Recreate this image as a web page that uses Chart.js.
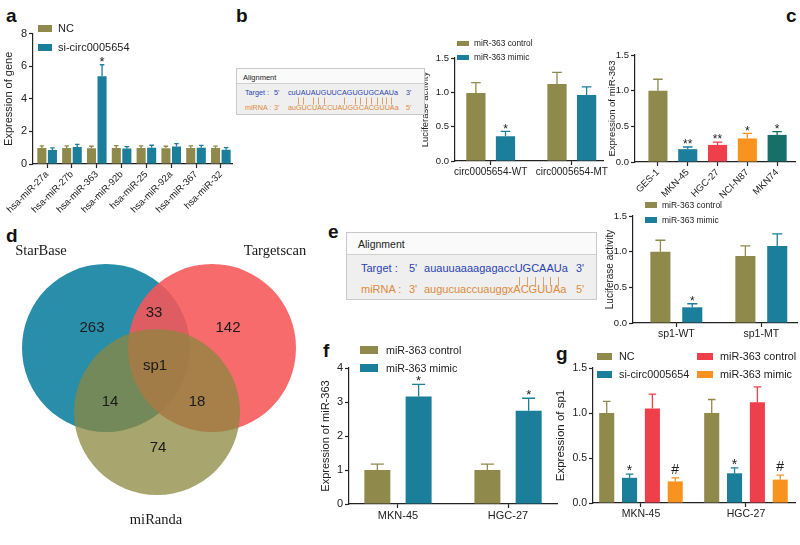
<!DOCTYPE html>
<html>
<head>
<meta charset="utf-8">
<script src="https://cdn.jsdelivr.net/npm/chart.js@4.4.1/dist/chart.umd.min.js"></script>
<style>
body { margin:0; width:800px; height:545px; background:#fff; position:relative; overflow:hidden; font-family:'Liberation Sans', Arial, sans-serif; color:#222; }
.pane { position:absolute; }
.tag { position:absolute; font-weight:bold; font-size:19px; color:#111; line-height:19px; }
.leg { position:absolute; display:flex; align-items:center; white-space:nowrap; color:#222; }
.leg i { display:inline-block; }
.align { position:absolute; border:1px solid #c9c9c9; background:#efefef; box-sizing:border-box; }
.align .hd { position:absolute; left:0; right:0; top:0; background:#fafafa; border-bottom:1px solid #cfcfcf; }
.align span.t { position:absolute; white-space:nowrap; transform:translateY(-50%); }
.seq b { font-weight:normal; position:relative; }
.seq b.m::after { content:''; position:absolute; left:50%; width:1px; background:#d9a06a; }
</style>
</head>
<body>

<div class="tag" style="left:6px;top:6px">a</div>
<div class="tag" style="left:236px;top:6px">b</div>
<div class="tag" style="left:786px;top:6px">c</div>
<div class="tag" style="left:6px;top:226px">d</div>
<div class="tag" style="left:328px;top:222px">e</div>
<div class="tag" style="left:323px;top:341px">f</div>
<div class="tag" style="left:556px;top:344px">g</div>

<div class="pane" style="left:2px;top:25px;width:233px;height:205px"><canvas id="chA"></canvas></div>
<div class="pane" style="left:420px;top:40px;width:190px;height:150px"><canvas id="chB"></canvas></div>
<div class="pane" style="left:607px;top:40px;width:193px;height:195px"><canvas id="chC"></canvas></div>
<div class="pane" style="left:0px;top:245px;width:320px;height:290px"><canvas id="chD"></canvas></div>
<div class="pane" style="left:604px;top:198px;width:196px;height:150px"><canvas id="chE"></canvas></div>
<div class="pane" style="left:319px;top:350px;width:241px;height:190px"><canvas id="chF"></canvas></div>
<div class="pane" style="left:554px;top:350px;width:246px;height:190px"><canvas id="chG"></canvas></div>

<div id="legends"></div>
<div id="aligns"></div>

<script>
// ---- data ----
const aCats = ['hsa-miR-27a','hsa-miR-27b','hsa-miR-363','hsa-miR-92b','hsa-miR-25','hsa-miR-92a','hsa-miR-367','hsa-miR-32'];
const aNC      = [0.98, 0.98, 0.97, 0.98, 0.98, 0.97, 0.98, 0.98];
const aNCErr   = [0.13, 0.13, 0.12, 0.15, 0.13, 0.12, 0.13, 0.12];
const aSi      = [0.86, 1.05, 5.39, 0.95, 1.0, 1.08, 1.0, 0.88];
const aSiErr   = [0.13, 0.15, 0.7, 0.12, 0.15, 0.17, 0.14, 0.12];
const aSiMarks = ['', '', '*', '', '', '', '', ''];

const bCats = ['circ0005654-WT', 'circ0005654-MT'];
const bCtrl = [0.99, 1.12];
const bCtrlErr = [0.15, 0.17];
const bMimic = [0.36, 0.96];
const bMimicErr = [0.07, 0.12];
const bMarks = ['*', ''];

const cCats = ['GES-1', 'MKN-45', 'HGC-27', 'NCI-N87', 'MKN74'];
const cVals = [1.0, 0.18, 0.24, 0.33, 0.38];
const cErr = [0.16, 0.03, 0.04, 0.07, 0.045];
const cMarks = ['', '**', '**', '*', '*'];

const vennSets = ['StarBase', 'Targetscan', 'miRanda'];
const vennCounts = ['263', '33', '142', 'sp1', '14', '18', '74'];

const eCats = ['sp1-WT', 'sp1-MT'];
const eCtrl = [1.0, 0.94];
const eCtrlErr = [0.16, 0.14];
const eMimic = [0.22, 1.08];
const eMimicErr = [0.05, 0.17];
const eMarks = ['*', ''];

const fCats = ['MKN-45', 'HGC-27'];
const fCtrl = [1.0, 1.0];
const fCtrlErr = [0.17, 0.17];
const fMimic = [3.16, 2.74];
const fMimicErr = [0.36, 0.37];
const fMarks = ['*', '*'];

const gCats = ['MKN-45', 'HGC-27'];
const gNC = [1.0, 1.0];
const gNCErr = [0.13, 0.15];
const gSi = [0.28, 0.33];
const gSiErr = [0.04, 0.06];
const gCtrl = [1.05, 1.12];
const gCtrlErr = [0.16, 0.17];
const gMimic = [0.24, 0.26];
const gMimicErr = [0.04, 0.05];
const gSiMarks = ['*', '*'];
const gMimicMarks = ['#', '#'];

// ---- colours ----
const OLIVE = '#8f8a4c', TEAL = '#1b7e9a', RED = '#ee3f4b', ORANGE = '#f7931e', DTEAL = '#176f6a';
const FONT = "'Liberation Sans', Arial, sans-serif";

Chart.defaults.font.family = FONT;
Chart.defaults.color = '#222';
Chart.defaults.animation = false;

// one-sided error bars + significance marks
const errBars = {
  id: 'errBars',
  afterDatasetsDraw(chart) {
    const ctx = chart.ctx, y = chart.scales.y;
    chart.data.datasets.forEach((ds, i) => {
      if (!ds.err) return;
      const meta = chart.getDatasetMeta(i);
      meta.data.forEach((bar, j) => {
        const v = ds.data[j].y;
        const top = y.getPixelForValue(v + ds.err[j]);
        const col = Array.isArray(ds.backgroundColor) ? ds.backgroundColor[j] : ds.backgroundColor;
        const w = bar.width * 0.25;
        ctx.save();
        ctx.strokeStyle = col; ctx.lineWidth = 1.3;
        ctx.beginPath();
        ctx.moveTo(bar.x, bar.y); ctx.lineTo(bar.x, top);
        ctx.moveTo(bar.x - w, top); ctx.lineTo(bar.x + w, top);
        ctx.stroke();
        if (ds.marks && ds.marks[j]) {
          ctx.fillStyle = '#222';
          ctx.font = (ds.markSize || 13) + 'px ' + FONT;
          ctx.textAlign = 'center'; ctx.textBaseline = 'bottom';
          ctx.fillText(ds.marks[j], bar.x, top + (ds.marks[j][0] === '*' ? 4 : -1));
        }
        ctx.restore();
      });
    });
  }
};

function pts(vals) { return vals.map((v, i) => ({ x: i, y: v })); }

function barChart(id, o) {
  return new Chart(document.getElementById(id), {
    type: 'bar',
    data: { datasets: o.sets.map(s => ({
      data: pts(s.vals), err: s.err, marks: s.marks, markSize: o.markSize,
      backgroundColor: s.color, borderWidth: 0,
      categoryPercentage: o.catPct, barPercentage: o.barPct
    })) },
    options: {
      responsive: true, maintainAspectRatio: false,
      layout: { padding: { top: o.padTop, right: o.padRight, left: 0, bottom: 0 } },
      plugins: { legend: { display: false }, tooltip: { enabled: false } },
      scales: {
        x: {
          type: 'linear', min: o.xMin, max: o.xMax, offset: false,
          afterBuildTicks: s => { s.ticks = o.cats.map((c, i) => ({ value: i })); },
          afterFit: s => { s.height = o.xH; },
          grid: { drawOnChartArea: false, offset: false, color: '#222', tickLength: 4, tickWidth: 1.2 },
          border: { color: '#222', width: 1.2 },
          ticks: { callback: v => o.cats[v], autoSkip: false, maxRotation: o.rot, minRotation: o.rot,
                   padding: 1, font: { size: o.xFs }, color: '#222' }
        },
        y: {
          min: 0, max: o.yMax, beginAtZero: true,
          afterFit: s => { s.width = o.axW; },
          grid: { drawOnChartArea: false, color: '#222', tickLength: 4, tickWidth: 1.2 },
          border: { color: '#222', width: 1.2 },
          ticks: { stepSize: o.yStep, padding: 2, font: { size: o.yFs }, color: '#222',
                   callback: v => o.dec ? v.toFixed(1) : v },
          title: { display: true, text: o.yTitle, font: { size: o.tFs }, color: '#222', padding: { top: 0, bottom: 2 } }
        }
      }
    },
    plugins: [errBars]
  });
}

barChart('chA', {
  cats: aCats, yMax: 8, yStep: 2, dec: false, xMin: -0.57, xMax: 7.45,
  axW: 31, padTop: 7, padRight: 3, xH: 66, rot: 45, xFs: 9.5, yFs: 11, tFs: 11,
  yTitle: 'Expression of gene', catPct: 0.85, barPct: 0.86, markSize: 13,
  sets: [
    { vals: aNC, err: aNCErr, color: OLIVE },
    { vals: aSi, err: aSiErr, color: TEAL, marks: aSiMarks }
  ]
});

barChart('chB', {
  cats: bCats, yMax: 1.5, yStep: 0.5, dec: true, xMin: -0.44, xMax: 1.39,
  axW: 35, padTop: 18, padRight: 5, xH: 29, rot: 0, xFs: 10, yFs: 9.5, tFs: 9.5,
  yTitle: 'Luciferase activity', catPct: 0.73, barPct: 0.65, markSize: 12,
  sets: [
    { vals: bCtrl, err: bCtrlErr, color: OLIVE },
    { vals: bMimic, err: bMimicErr, color: TEAL, marks: bMarks }
  ]
});

barChart('chC', {
  cats: cCats, yMax: 1.5, yStep: 0.5, dec: true, xMin: -0.77, xMax: 4.6,
  axW: 28, padTop: 15, padRight: 5, xH: 73, rot: 45, xFs: 9.5, yFs: 9.5, tFs: 9.5,
  yTitle: 'Expression of miR-363', catPct: 0.64, barPct: 1.0, markSize: 12,
  sets: [
    { vals: cVals, err: cErr, color: [OLIVE, TEAL, RED, ORANGE, DTEAL], marks: cMarks }
  ]
});

barChart('chE', {
  cats: eCats, yMax: 1.5, yStep: 0.5, dec: true, xMin: -0.51, xMax: 1.42,
  axW: 29, padTop: 18, padRight: 3, xH: 25, rot: 0, xFs: 10.5, yFs: 9.5, tFs: 10,
  yTitle: 'Luciferase activity', catPct: 0.75, barPct: 0.63, markSize: 12,
  sets: [
    { vals: eCtrl, err: eCtrlErr, color: OLIVE },
    { vals: eMimic, err: eMimicErr, color: TEAL, marks: eMarks }
  ]
});

barChart('chF', {
  cats: fCats, yMax: 4, yStep: 1, dec: false, xMin: -0.445, xMax: 1.445,
  axW: 30, padTop: 18, padRight: 3, xH: 36, rot: 0, xFs: 11, yFs: 11, tFs: 11,
  yTitle: 'Expression of miR-363', catPct: 0.75, barPct: 0.63, markSize: 13,
  sets: [
    { vals: fCtrl, err: fCtrlErr, color: OLIVE },
    { vals: fMimic, err: fMimicErr, color: TEAL, marks: fMarks }
  ]
});

barChart('chG', {
  cats: gCats, yMax: 1.5, yStep: 0.5, dec: true, xMin: -0.457, xMax: 1.467,
  axW: 39, padTop: 18, padRight: 5, xH: 37, rot: 0, xFs: 10.5, yFs: 10.5, tFs: 11.5,
  yTitle: 'Expression of sp1', catPct: 0.87, barPct: 0.66, markSize: 14,
  sets: [
    { vals: gNC, err: gNCErr, color: OLIVE },
    { vals: gSi, err: gSiErr, color: TEAL, marks: gSiMarks },
    { vals: gCtrl, err: gCtrlErr, color: RED },
    { vals: gMimic, err: gMimicErr, color: ORANGE, marks: gMimicMarks }
  ]
});

// ---- Venn (d): canvas coords map 1:1 to page pixels ----
const vennCircles = [
  { x: 106, y: 348, r: 84, c: 'rgba(40,142,170,1)', order: 3 },
  { x: 212, y: 348, r: 84, c: 'rgba(246,86,88,0.88)', order: 2 },
  { x: 157, y: 412, r: 83, c: 'rgba(140,135,62,0.75)', order: 1 }
];
const vennTextPos = [
  { x: 92, y: 328 }, { x: 154, y: 313 }, { x: 228, y: 328 },
  { x: 155, y: 366 }, { x: 110, y: 402 }, { x: 197, y: 402 }, { x: 158, y: 448 }
];
const vennSetPos = [{ x: 41, y: 251 }, { x: 275, y: 251 }, { x: 156, y: 520 }];

const textLabels = {
  id: 'textLabels',
  afterDatasetsDraw(chart) {
    const ctx = chart.ctx;
    chart.data.datasets.forEach((ds, i) => {
      if (!ds.texts) return;
      chart.getDatasetMeta(i).data.forEach((p, j) => {
        ctx.save();
        ctx.font = ds.textFont; ctx.fillStyle = '#1a1a1a';
        ctx.textAlign = 'center'; ctx.textBaseline = 'middle';
        ctx.fillText(ds.texts[j], p.x, p.y);
        ctx.restore();
      });
    });
  }
};

new Chart(document.getElementById('chD'), {
  type: 'bubble',
  data: { datasets: [
    ...vennCircles.map(c => ({ data: [{ x: c.x, y: c.y, r: c.r }], backgroundColor: c.c,
                              borderWidth: 0, clip: false, order: c.order })),
    { type: 'scatter', data: vennTextPos, pointRadius: 0, texts: vennCounts, textFont: '15px ' + FONT, clip: false, order: 0 },
    { type: 'scatter', data: vennSetPos, pointRadius: 0, texts: vennSets, clip: false, order: 0,
      textFont: "14.5px 'Liberation Serif', 'Times New Roman', serif" }
  ] },
  options: {
    responsive: true, maintainAspectRatio: false,
    layout: { padding: 0, autoPadding: false },
    plugins: { legend: { display: false }, tooltip: { enabled: false } },
    scales: {
      x: { display: false, min: 0, max: 320 },
      y: { display: false, min: 245, max: 535, reverse: true }
    }
  },
  plugins: [textLabels]
});

// ---- legends ----
const legendItems = [
  { x: 38, y: 28, w: 14, h: 7, fs: 11, c: OLIVE, t: 'NC' },
  { x: 38, y: 47, w: 14, h: 7, fs: 11, c: TEAL, t: 'si-circ0005654' },
  { x: 457, y: 43, w: 12, h: 5, fs: 8.3, c: OLIVE, t: 'miR-363 control' },
  { x: 457, y: 57, w: 12, h: 5, fs: 8.3, c: TEAL, t: 'miR-363 mimic' },
  { x: 645, y: 205, w: 12, h: 6, fs: 8.5, c: OLIVE, t: 'miR-363 control' },
  { x: 645, y: 220, w: 12, h: 6, fs: 8.5, c: TEAL, t: 'miR-363 mimic' },
  { x: 360, y: 350, w: 18, h: 8, fs: 10.7, c: OLIVE, t: 'miR-363 control' },
  { x: 360, y: 368, w: 18, h: 8, fs: 10.7, c: TEAL, t: 'miR-363 mimic' },
  { x: 597, y: 356, w: 15, h: 7, fs: 10.8, c: OLIVE, t: 'NC' },
  { x: 597, y: 374, w: 15, h: 7, fs: 10.8, c: TEAL, t: 'si-circ0005654' },
  { x: 697, y: 356, w: 16, h: 7, fs: 10.8, c: RED, t: 'miR-363 control' },
  { x: 697, y: 374, w: 16, h: 7, fs: 10.8, c: ORANGE, t: 'miR-363 mimic' }
];
const legHost = document.getElementById('legends');
legendItems.forEach(l => {
  const d = document.createElement('div');
  d.className = 'leg';
  d.style.cssText = `left:${l.x}px;top:${l.y - 8}px;height:16px;font-size:${l.fs}px`;
  d.innerHTML = `<i style="width:${l.w}px;height:${l.h}px;background:${l.c};margin-right:${Math.round(l.w * 0.45)}px"></i>${l.t}`;
  legHost.appendChild(d);
});

// ---- alignment boxes (b, e) ----
const alignBoxes = [
  { x: 236, y: 68, w: 189, h: 47, hd: 14, fs: 7.2, hfs: 7.5,
    target: 'cuUAUAUGUUCAGUGUGCAAUa', mirna: 'auGUCUACCUAUGGCACGUUAa',
    pairs: [2,3,5,6,7,11,13,14,15,16,17,18,19,20],
    cols: [8, 37, 51, 169], rows: [23, 38], hx: 6, hy: 8 },
  { x: 346, y: 232, w: 251, h: 68, hd: 21, fs: 11, hfs: 10.5,
    target: 'auauuaaaagagaccUGCAAUa', mirna: 'augucuaccuauggxACGUUAa',
    pairs: [15,16,17,18,19,20],
    cols: [14, 62, 77, 229], rows: [35, 56], hx: 11, hy: 11 }
];
const alHost = document.getElementById('aligns');
alignBoxes.forEach((b, k) => {
  const box = document.createElement('div');
  box.className = 'align';
  box.style.cssText = `left:${b.x}px;top:${b.y}px;width:${b.w}px;height:${b.h}px;font-size:${b.fs}px`;
  const gap = b.rows[1] - b.rows[0];
  const seq = b.target.split('').map((ch, i) =>
    `<b class="${b.pairs.includes(i) ? 'm' : ''}">${ch}</b>`).join('');
  const rowHtml = (r, lab, p1, s, p2, col) =>
    `<span class="t" style="left:${b.cols[0]}px;top:${r}px;color:${col}">${lab}</span>` +
    `<span class="t" style="left:${b.cols[1]}px;top:${r}px;color:${col}">${p1}</span>` +
    `<span class="t seq" style="left:${b.cols[2]}px;top:${r}px;color:${col}">${s}</span>` +
    `<span class="t" style="left:${b.cols[3]}px;top:${r}px;color:${col}">${p2}</span>`;
  box.innerHTML =
    `<div class="hd" style="height:${b.hd}px"></div>` +
    `<span class="t" style="left:${b.hx}px;top:${b.hy}px;font-size:${b.hfs}px;color:#222">Alignment</span>` +
    rowHtml(b.rows[0], 'Target :', "5'", seq, "3'", '#2b3fb0') +
    rowHtml(b.rows[1], 'miRNA :', "3'", b.mirna, "5'", '#dd8a3c');
  alHost.appendChild(box);
  const st = document.createElement('style');
  st.textContent = `.align:nth-child(${k + 1}) b.m::after{top:${Math.round(b.fs * 1.15 + gap * 0.1)}px;height:${Math.round(gap * 0.45)}px;}`;
  document.head.appendChild(st);
});
</script>
</body>
</html>
